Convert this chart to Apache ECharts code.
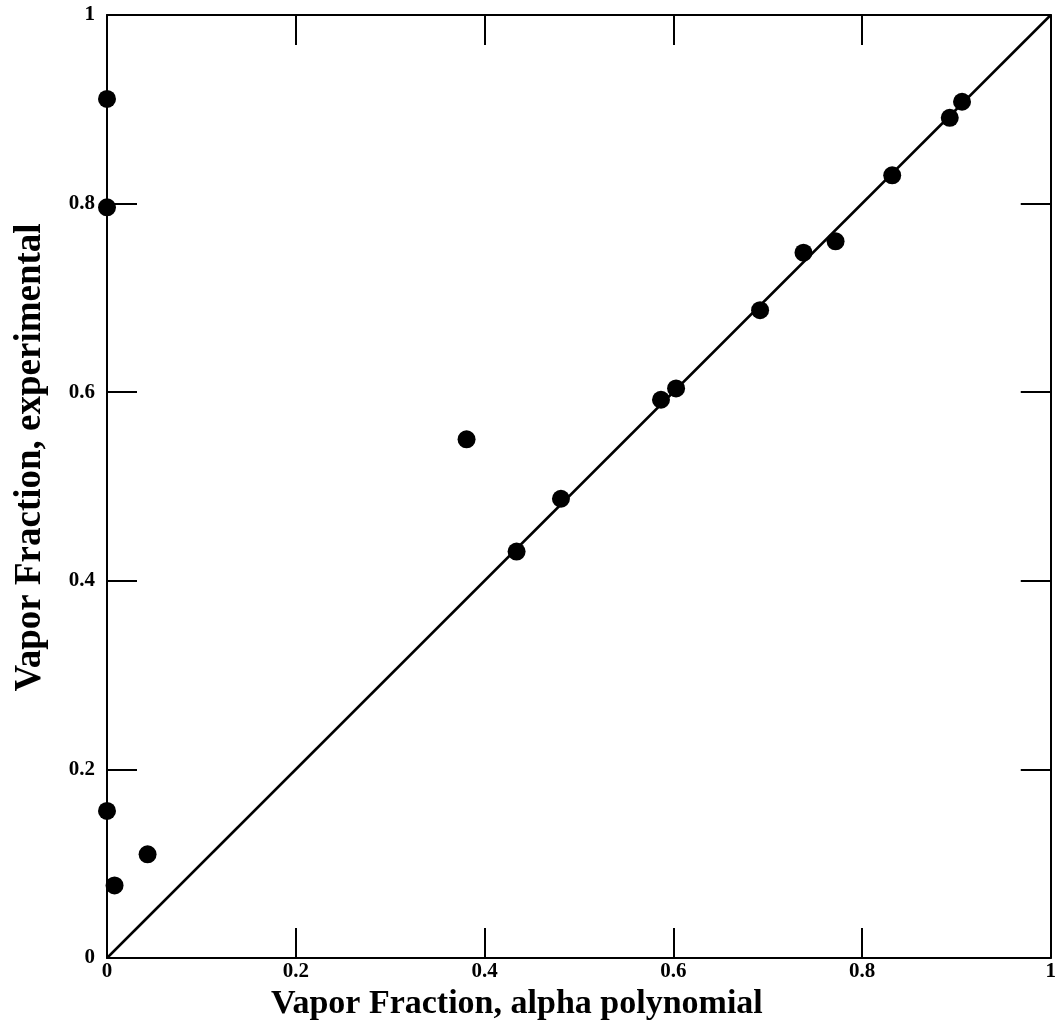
<!DOCTYPE html>
<html><head><meta charset="utf-8">
<script src="https://cdn.jsdelivr.net/npm/echarts@6/dist/echarts.min.js"></script>
<style>html,body{margin:0;padding:0;background:#fff}#c{width:1059px;height:1029px}</style>
</head><body><div id="c"></div>
<script>
const alphaPolynomial = [0.0, 0.0, 0.0, 0.008, 0.043, 0.381, 0.434, 0.481, 0.587, 0.603, 0.692, 0.738, 0.772, 0.832, 0.893, 0.906];
const experimental    = [0.911, 0.796, 0.156, 0.077, 0.110, 0.550, 0.431, 0.487, 0.592, 0.604, 0.687, 0.748, 0.760, 0.830, 0.891, 0.908];
const identityLine = [[0, 0], [1, 1]];
const xTitle = 'Vapor Fraction, alpha polynomial';
const yTitle = 'Vapor Fraction, experimental';

const FONT = '"Liberation Serif", "DejaVu Serif", serif';
const points = alphaPolynomial.map((x, i) => [x, experimental[i]]);
const lbl = v => (v === 0 ? '0' : v === 1 ? '1' : String(v));
function axisBase() {
  return {
    type: 'value', min: 0, max: 1, interval: 0.2,
    axisLine: { show: true, onZero: false, lineStyle: { color: '#000', width: 2 } },
    axisTick: { show: true, inside: true, length: 30, lineStyle: { color: '#000', width: 2 } },
    splitLine: { show: false },
  };
}
const chart = echarts.init(document.getElementById('c'));
chart.setOption({
  backgroundColor: '#fff',
  animation: false,
  grid: { left: 107, top: 15, right: 2, bottom: 71, containLabel: false },
  xAxis: [
    Object.assign(axisBase(), {
      position: 'bottom',
      name: xTitle, nameLocation: 'middle', nameGap: 17,
      nameTextStyle: { fontFamily: FONT, fontWeight: 'bold', fontSize: 34, color: '#000', verticalAlign: 'top', padding: [0, 124, 0, 0] },
      axisLabel: { formatter: lbl, fontFamily: FONT, fontWeight: 'bold', fontSize: 21, color: '#000', margin: 3 }
    }),
    Object.assign(axisBase(), { position: 'top', axisLabel: { show: false } })
  ],
  yAxis: [
    Object.assign(axisBase(), {
      position: 'left',
      name: yTitle, nameLocation: 'middle', nameGap: 58,
      nameTextStyle: { fontFamily: FONT, fontWeight: 'bold', fontSize: 37, color: '#000', padding: [0, 0, 0, 58] },
      axisLabel: { formatter: lbl, fontFamily: FONT, fontWeight: 'bold', fontSize: 21, color: '#000', margin: 12 }
    }),
    Object.assign(axisBase(), { position: 'right', axisLabel: { show: false } })
  ],
  series: [
    {
      type: 'line', data: identityLine, xAxisIndex: 0, yAxisIndex: 0,
      symbol: 'none', lineStyle: { color: '#000', width: 2.5 }, z: 2
    },
    {
      type: 'scatter', data: points, xAxisIndex: 0, yAxisIndex: 0,
      symbol: 'circle', symbolSize: 18, itemStyle: { color: '#000', opacity: 1 }, z: 3
    }
  ]
});
</script></body></html>
